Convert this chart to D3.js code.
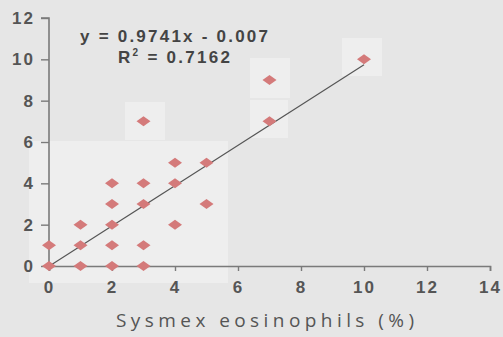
<!DOCTYPE html>
<html>
<head>
<meta charset="utf-8">
<script src="https://cdn.jsdelivr.net/npm/d3@7/dist/d3.min.js"></script>
<style>
  html, body { margin: 0; padding: 0; background: #e6e6e6; }
  svg { display: block; }
</style>
</head>
<body>
<svg id="chart" width="503" height="337"></svg>
<script>
// Sysmex vs. manual eosinophil counts (%)
const sysmexX = [0, 0, 1, 1, 1, 2, 2, 2, 2, 2, 3, 3, 3, 3, 3, 4, 4, 4, 5, 5, 7, 7, 10];
const manualY = [0, 1, 0, 1, 2, 0, 1, 2, 3, 4, 0, 1, 3, 4, 7, 2, 4, 5, 5, 3, 7, 9, 10];
const xTicks = [0, 2, 4, 6, 8, 10, 12, 14];
const yTicks = [0, 2, 4, 6, 8, 10, 12];
const slope = 0.9741;
const intercept = -0.007;
const rSquared = 0.7162;
const fitRange = [0, 10];
const xTitle = "Sysmex eosinophils (%)";

const svg = d3.select("#chart");

const x = d3.scaleLinear().domain([0, 14]).range([49, 490]);
const y = d3.scaleLinear().domain([0, 12]).range([266, 18]);

// lighter scanned panels behind the data
const panels = [
  [29, 141, 199, 142],
  [125, 102, 40, 38],
  [250, 58, 40, 40],
  [250, 100, 38, 38],
  [342, 38, 40, 38]
];
svg.selectAll("rect.panel").data(panels).join("rect")
  .attr("class", "panel")
  .attr("x", d => d[0]).attr("y", d => d[1])
  .attr("width", d => d[2]).attr("height", d => d[3])
  .attr("fill", "#eeeeee");

// axes
const axisColor = "#7a7a7a";
const yAxis = svg.append("g")
  .attr("transform", `translate(${x(0)},0)`)
  .call(d3.axisLeft(y).tickValues(yTicks).tickSize(8).tickPadding(6).tickFormat(d3.format("d")));
const xAxis = svg.append("g")
  .attr("transform", `translate(0,${y(0)})`)
  .call(d3.axisBottom(x).tickValues(xTicks).tickSize(5).tickSizeOuter(5).tickPadding(10).tickFormat(d3.format("d")));

[yAxis, xAxis].forEach(g => {
  g.select(".domain").attr("stroke", axisColor).attr("stroke-width", 1.6);
  g.selectAll(".tick line").attr("stroke", axisColor).attr("stroke-width", 1.4);
  g.selectAll(".tick text")
    .attr("fill", "#555")
    .style("font-family", "'Liberation Sans', Arial, sans-serif")
    .style("font-weight", "bold")
    .style("font-size", "17px")
    .style("letter-spacing", "2px");
});
yAxis.select(".domain").attr("d", `M-8,${y(12)}H0V${y(0)}`);

// regression line
svg.append("line")
  .attr("x1", x(fitRange[0])).attr("y1", y(slope * fitRange[0] + intercept))
  .attr("x2", x(fitRange[1])).attr("y2", y(slope * fitRange[1] + intercept))
  .attr("stroke", "#555")
  .attr("stroke-width", 1.2);

// points (diamonds)
const diamond = "M0,-5L7,0L0,5L-7,0Z";
svg.selectAll("path.pt").data(sysmexX.map((v, i) => [v, manualY[i]])).join("path")
  .attr("class", "pt")
  .attr("d", diamond)
  .attr("transform", d => `translate(${x(d[0])},${y(d[1])})`)
  .attr("fill", "#d47a7a");

// equation
const eqFont = "'Liberation Sans', Arial, sans-serif";
svg.append("text")
  .attr("x", 80).attr("y", 42)
  .attr("textLength", 188).attr("lengthAdjust", "spacing")
  .style("font-family", eqFont).style("font-weight", "bold").style("font-size", "17px")
  .attr("fill", "#444")
  .text(`y = ${slope}x - ${Math.abs(intercept).toFixed(3)}`);

const r2 = svg.append("text")
  .attr("x", 118).attr("y", 63)
  .style("font-family", eqFont).style("font-weight", "bold").style("font-size", "17px")
  .attr("fill", "#444");
r2.append("tspan").text("R");
r2.append("tspan").attr("dy", -7).style("font-size", "10px").text("2");
r2.append("tspan").attr("dy", 7).text(` = ${rSquared}`);
r2.attr("textLength", 112).attr("lengthAdjust", "spacing");

// x-axis title
svg.append("text")
  .attr("x", 116).attr("y", 327)
  .attr("textLength", 298).attr("lengthAdjust", "spacing")
  .style("font-family", "'Open Sans', 'DejaVu Sans', sans-serif")
  .style("font-size", "19px")
  .attr("fill", "#555")
  .text(xTitle);
</script>
</body>
</html>
